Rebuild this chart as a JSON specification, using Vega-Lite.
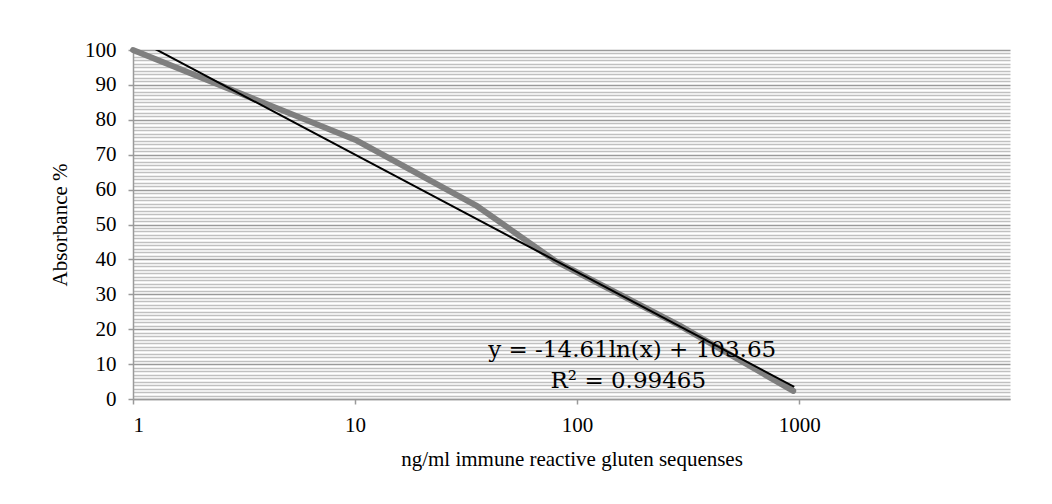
{
  "$schema": "https://vega.github.io/schema/vega-lite/v6.json",
  "autosize": {"type": "none"},
  "width": 877,
  "height": 349,
  "padding": {"left": 133, "top": 50, "right": 42, "bottom": 105},
  "background": "white",
  "config": {
    "view": {"stroke": null},
    "font": "Liberation Serif",
    "axis": {
      "labelFont": "Liberation Serif",
      "titleFont": "Liberation Serif",
      "labelFontSize": 21,
      "titleFontSize": 21,
      "titleFontWeight": "normal",
      "labelColor": "#000000",
      "titleColor": "#000000",
      "domainColor": "#9a9a9a",
      "domainWidth": 1.5,
      "tickColor": "#9a9a9a",
      "tickWidth": 1.5,
      "tickSize": 5
    }
  },
  "datasets": {
    "measured": [
      {"conc": 1, "abs": 100},
      {"conc": 10, "abs": 74.3},
      {"conc": 35, "abs": 55.5},
      {"conc": 80, "abs": 39.5},
      {"conc": 290, "abs": 21},
      {"conc": 940, "abs": 2.3}
    ],
    "trend": [
      {"conc": 1, "abs": 103.65},
      {"conc": 950, "abs": 3.48}
    ],
    "labels": [
      {"conc": 177, "abs": 14.0, "text": "y = -14.61ln(x) + 103.65"},
      {"conc": 170, "abs": 5.2, "text": "R² = 0.99465"}
    ]
  },
  "resolve": {"axis": {"y": "independent"}},
  "layer": [
    {
      "data": {"name": "measured"},
      "mark": {"type": "line", "color": "#7f7f7f", "strokeWidth": 6, "strokeCap": "round", "strokeJoin": "round"},
      "encoding": {
        "x": {
          "field": "conc", "type": "quantitative",
          "scale": {"type": "log", "domain": [1, 8900], "nice": false},
          "axis": {"values": [1, 10, 100, 1000], "format": "d", "grid": false, "labelPadding": 10, "title": "ng/ml immune reactive gluten sequenses", "titlePadding": 13}
        },
        "y": {
          "field": "abs", "type": "quantitative",
          "scale": {"domain": [0, 100], "nice": false},
          "axis": {"orient": "left", "values": [0,10,20,30,40,50,60,70,80,90,100], "grid": true, "gridColor": "#9a9a9a", "gridWidth": 1.5, "labelPadding": 12, "title": "Absorbance %", "titlePadding": 14}
        }
      }
    },
    {
      "data": {"name": "trend"},
      "mark": {"type": "line", "color": "#000000", "strokeWidth": 2, "clip": true},
      "encoding": {
        "x": {"field": "conc", "type": "quantitative"},
        "y": {
          "field": "abs", "type": "quantitative",
          "axis": {"orient": "left", "values": [1,2,3,4,5,6,7,8,9,11,12,13,14,15,16,17,18,19,21,22,23,24,25,26,27,28,29,31,32,33,34,35,36,37,38,39,41,42,43,44,45,46,47,48,49,51,52,53,54,55,56,57,58,59,61,62,63,64,65,66,67,68,69,71,72,73,74,75,76,77,78,79,81,82,83,84,85,86,87,88,89,91,92,93,94,95,96,97,98,99], "grid": true, "gridColor": "#c0c0c0", "gridWidth": 1.5, "labels": false, "ticks": false, "domain": false, "title": null}
        }
      }
    },
    {
      "data": {"name": "labels"},
      "mark": {"type": "text", "font": "DejaVu Serif", "fontSize": 23, "align": "center", "baseline": "middle", "color": "#000000"},
      "encoding": {
        "x": {"field": "conc", "type": "quantitative"},
        "y": {"field": "abs", "type": "quantitative", "axis": null},
        "text": {"field": "text"}
      }
    }
  ]
}
